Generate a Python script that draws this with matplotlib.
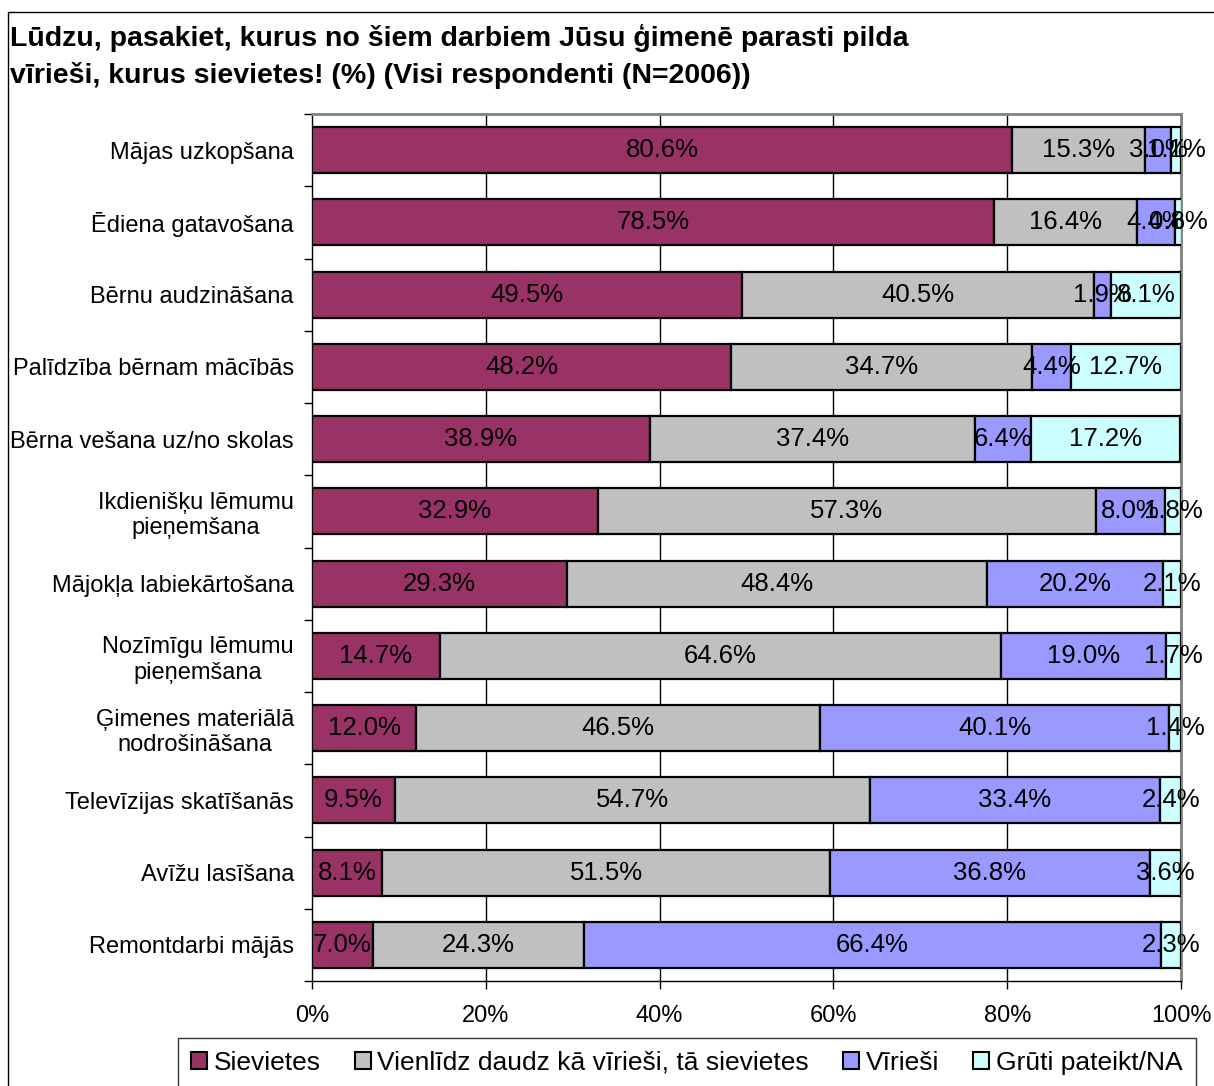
import matplotlib
matplotlib.use("Agg")
import matplotlib.pyplot as plt
import numpy as np
from matplotlib.patches import Rectangle, Patch

plt.rcParams['font.family'] = ['Liberation Sans', 'DejaVu Sans']

title = ("Lūdzu, pasakiet, kurus no šiem darbiem Jūsu ģimenē parasti pilda\n"
         "vīrieši, kurus sievietes! (%) (Visi respondenti (N=2006))")

categories = [
    "Mājas uzkopšana",
    "Ēdiena gatavošana",
    "Bērnu audzināšana",
    "Palīdzība bērnam mācībās",
    "Bērna vešana uz/no skolas",
    "Ikdienišķu lēmumu\npieņemšana",
    "Mājokļa labiekārtošana",
    "Nozīmīgu lēmumu\npieņemšana",
    "Ģimenes materiālā\nnodrošināšana",
    "Televīzijas skatīšanās",
    "Avīžu lasīšana",
    "Remontdarbi mājās",
]

series_names = ["Sievietes", "Vienlīdz daudz kā vīrieši, tā sievietes", "Vīrieši", "Grūti pateikt/NA"]
sievietes = [80.6, 78.5, 49.5, 48.2, 38.9, 32.9, 29.3, 14.7, 12.0, 9.5, 8.1, 7.0]
vienlidz = [15.3, 16.4, 40.5, 34.7, 37.4, 57.3, 48.4, 64.6, 46.5, 54.7, 51.5, 24.3]
virsiesi = [3.0, 4.4, 1.9, 4.4, 6.4, 8.0, 20.2, 19.0, 40.1, 33.4, 36.8, 66.4]
gruti = [1.1, 0.8, 8.1, 12.7, 17.2, 1.8, 2.1, 1.7, 1.4, 2.4, 3.6, 2.3]
colors = ["#993366", "#C0C0C0", "#9999FF", "#CCFFFF"]

xticks = [0, 20, 40, 60, 80, 100]
xtick_labels = ["0%", "20%", "40%", "60%", "80%", "100%"]

W, H = 1214, 1086
fig = plt.figure(figsize=(W / 100, H / 100), dpi=100)

ax_left, ax_right = 312 / W, 1181 / W
ax_top, ax_bottom = 1 - 114 / H, 1 - 981 / H
ax = fig.add_axes([ax_left, ax_bottom, ax_right - ax_left, ax_top - ax_bottom])

y = np.arange(len(categories))
left = np.zeros(len(categories))
for vals, col in zip([sievietes, vienlidz, virsiesi, gruti], colors):
    vals = np.array(vals)
    bars = ax.barh(y, vals, left=left, height=0.64, color=col,
                   edgecolor="black", linewidth=1.6, zorder=3)
    for b, v in zip(bars, vals):
        ax.text(b.get_x() + b.get_width() / 2, b.get_y() + b.get_height() / 2,
                f"{v:.1f}%", ha="center", va="center", fontsize=18.5,
                color="black", zorder=5)
    left += vals

ax.set_xlim(0, 100)
ax.set_ylim(len(categories) - 0.5, -0.5)
ax.set_xticks(xticks)
ax.set_xticklabels(xtick_labels, fontsize=17)
ax.set_yticks(y)
ax.set_yticklabels(categories, fontsize=17)
for lab in ax.get_yticklabels():
    lab.set_multialignment("center")
ax.set_yticks(np.arange(len(categories) + 1) - 0.5, minor=True)
ax.tick_params(axis="y", which="major", length=0, pad=13)
ax.tick_params(axis="y", which="minor", length=6, width=1, color="black", direction="out")
ax.tick_params(axis="x", which="major", length=6, width=1, color="black", direction="out", pad=11)

ax.xaxis.grid(True, color="black", linewidth=1, zorder=0)
ax.set_axisbelow(True)
ax.get_xgridlines()[-1].set_visible(False)
ax.get_xgridlines()[0].set_visible(False)

for s in ["left", "bottom"]:
    ax.spines[s].set_color("black")
    ax.spines[s].set_linewidth(1)
for s in ["top", "right"]:
    ax.spines[s].set_color("#808080")
    ax.spines[s].set_linewidth(2)

fig.text(10 / W, 1 - 24 / H, title, ha="left", va="top", fontsize=20.5,
         fontweight="bold", linespacing=1.46)

# outer chart border
fig.patches.append(Rectangle((8 / W, -0.1), 1.2, 1 - 12 / H + 0.1,
                             transform=fig.transFigure, fill=False,
                             edgecolor="black", linewidth=1))

handles = [Patch(facecolor=c, edgecolor="black", linewidth=1.5) for c in colors]
leg = fig.legend(handles, series_names, loc="lower left",
                 bbox_to_anchor=(178 / W, -2 / H),
                 ncol=4, fontsize=19, frameon=True, fancybox=False,
                 edgecolor="black", handlelength=0.6, handleheight=0.6,
                 handletextpad=0.25, columnspacing=1.3, borderaxespad=0,
                 borderpad=0.5)
leg.get_frame().set_linewidth(1)

fig.savefig("out.png", dpi=100)
